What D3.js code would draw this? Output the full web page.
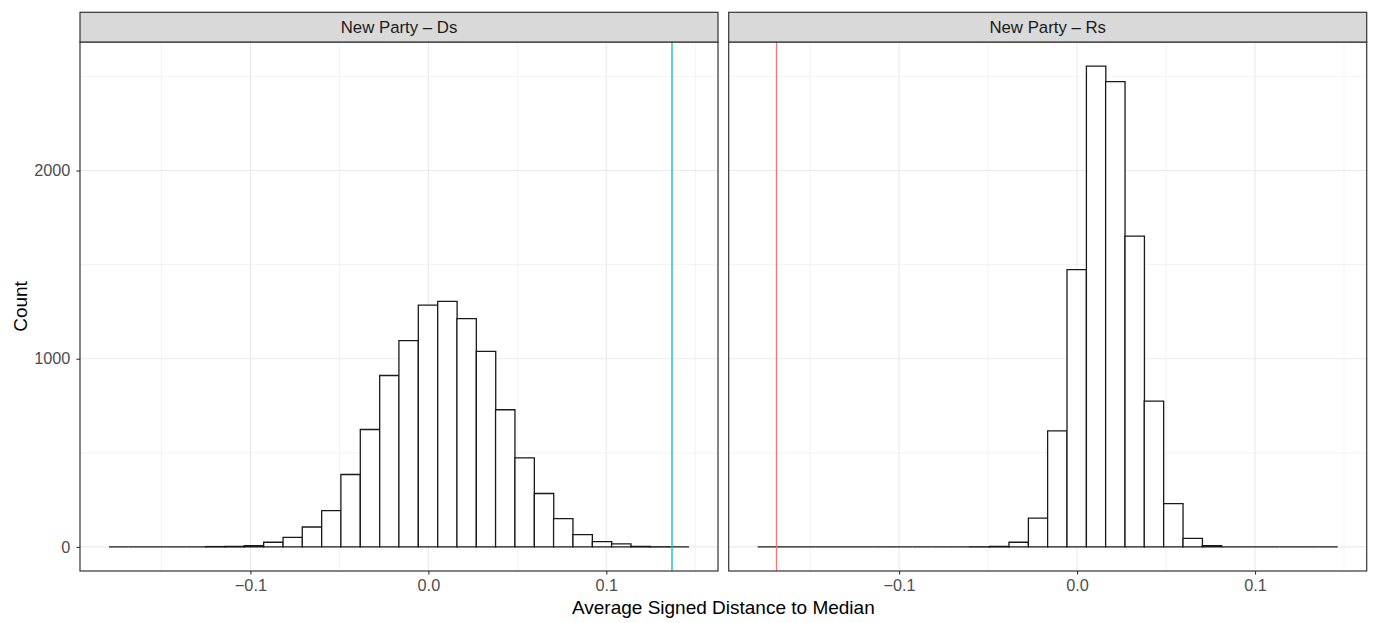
<!DOCTYPE html>
<html>
<head>
<meta charset="utf-8">
<script src="https://cdn.jsdelivr.net/npm/d3@7"></script>
<style>
  html, body { margin: 0; padding: 0; background: #fff; }
  svg { display: block; font-family: "Liberation Sans", Arial, Helvetica, sans-serif; }
</style>
</head>
<body>
<svg id="chart" width="1377" height="623"></svg>
<script>
// Histogram bin centres (shared by both facets)
const binCenters = [
  -0.1740, -0.1631, -0.1523, -0.1414, -0.1305, -0.1197, -0.1088, -0.0980, -0.0871, -0.0762,
  -0.0654, -0.0545, -0.0437, -0.0328, -0.0219, -0.0111, -0.0002, 0.0107, 0.0215, 0.0324,
  0.0432, 0.0541, 0.0650, 0.0758, 0.0867, 0.0976, 0.1084, 0.1193, 0.1301, 0.1410
];

// Counts per bin, one array per facet
const countsDs = [
  0, 0, 0, 0, 0, 2, 3, 7, 25, 51,
  106, 193, 385, 624, 911, 1096, 1285, 1305, 1213, 1039,
  729, 473, 284, 151, 66, 28, 16, 3, 1, 0
];
const countsRs = [
  0, 0, 0, 0, 0, 0, 0, 0, 0, 0,
  0, 1, 3, 25, 153, 617, 1473, 2555, 2472, 1651,
  775, 230, 46, 7, 0, 0, 0, 0, 0, 0
];

const facetLabels = ["New Party \u2013 Ds", "New Party \u2013 Rs"];
const refLines = [0.1369, -0.1689];
const refColors = ["#00BFC4", "#F8766D"];

const xTicks = [-0.1, 0.0, 0.1];
const xMinor = [-0.15, -0.05, 0.05, 0.15];
const yTicks = [0, 1000, 2000];
const yMinor = [500, 1500, 2500];

const xTitle = "Average Signed Distance to Median";
const yTitle = "Count";

// ---- layout ----
const svg = d3.select("#chart");
const panelW = 638;
const panelLefts = [80, 728.7];
const stripTop = 12.3, stripH = 29.7;
const plotTop = stripTop + stripH, plotBottom = 571;
const tickFont = 16.3, stripFont = 16.8, titleFont = 19;

const binWidth = binCenters[1] - binCenters[0];
const dataMin = Math.min(binCenters[0] - binWidth / 2, d3.min(refLines));
const dataMax = Math.max(binCenters[binCenters.length - 1] + binWidth / 2, d3.max(refLines));
const xPad = (dataMax - dataMin) * 0.05;

const yMax = d3.max([...countsDs, ...countsRs]);
const y = d3.scaleLinear()
  .domain([-0.05 * yMax, 1.05 * yMax])
  .range([plotBottom, plotTop]);

const facets = [countsDs, countsRs];

const fmtX = d => {
  const s = d3.format(".1f")(Math.abs(d));
  return d < 0 ? "\u2212" + s : s;
};

facets.forEach((counts, i) => {
  const left = panelLefts[i];
  const x = d3.scaleLinear()
    .domain([dataMin - xPad, dataMax + xPad])
    .range([left, left + panelW]);

  const g = svg.append("g");

  // panel background
  g.append("rect")
    .attr("x", left).attr("y", plotTop)
    .attr("width", panelW).attr("height", plotBottom - plotTop)
    .attr("fill", "#fff");

  // minor grid
  g.selectAll(".gxm").data(xMinor).join("line")
    .attr("x1", d => x(d)).attr("x2", d => x(d))
    .attr("y1", plotTop).attr("y2", plotBottom)
    .attr("stroke", "#EBEBEB").attr("stroke-width", 0.6);
  g.selectAll(".gym").data(yMinor).join("line")
    .attr("x1", left).attr("x2", left + panelW)
    .attr("y1", d => y(d)).attr("y2", d => y(d))
    .attr("stroke", "#EBEBEB").attr("stroke-width", 0.6);
  // major grid
  g.selectAll(".gx").data(xTicks).join("line")
    .attr("x1", d => x(d)).attr("x2", d => x(d))
    .attr("y1", plotTop).attr("y2", plotBottom)
    .attr("stroke", "#EBEBEB").attr("stroke-width", 1.2);
  g.selectAll(".gy").data(yTicks).join("line")
    .attr("x1", left).attr("x2", left + panelW)
    .attr("y1", d => y(d)).attr("y2", d => y(d))
    .attr("stroke", "#EBEBEB").attr("stroke-width", 1.2);

  // histogram bars as closed paths so empty bins still show their outline
  g.selectAll(".bar").data(binCenters.map((c, k) => ({ c, n: counts[k] }))).join("path")
    .attr("d", d => {
      const x0 = x(d.c - binWidth / 2), x1 = x(d.c + binWidth / 2);
      const y0 = y(0), y1 = y(d.n);
      return `M${x0},${y0}L${x0},${y1}L${x1},${y1}L${x1},${y0}Z`;
    })
    .attr("fill", "#fff")
    .attr("stroke", "#1a1a1a")
    .attr("stroke-width", 1.3);

  // reference line
  g.append("line")
    .attr("x1", x(refLines[i])).attr("x2", x(refLines[i]))
    .attr("y1", plotTop).attr("y2", plotBottom)
    .attr("stroke", refColors[i]).attr("stroke-width", 1.3);

  // panel border
  g.append("rect")
    .attr("x", left).attr("y", plotTop)
    .attr("width", panelW).attr("height", plotBottom - plotTop)
    .attr("fill", "none").attr("stroke", "#333333").attr("stroke-width", 1.2);

  // strip
  g.append("rect")
    .attr("x", left).attr("y", stripTop)
    .attr("width", panelW).attr("height", stripH)
    .attr("fill", "#D9D9D9").attr("stroke", "#333333").attr("stroke-width", 1.2);
  g.append("text")
    .attr("x", left + panelW / 2).attr("y", stripTop + stripH / 2)
    .attr("dy", "0.35em")
    .attr("text-anchor", "middle")
    .attr("font-size", stripFont).attr("fill", "#1A1A1A")
    .text(facetLabels[i]);

  // x axis
  const xAxis = d3.axisBottom(x).tickValues(xTicks).tickFormat(fmtX)
    .tickSize(3.6).tickPadding(5);
  const ax = svg.append("g").attr("transform", `translate(0,${plotBottom})`).call(xAxis);
  ax.select(".domain").remove();
  ax.selectAll(".tick line").attr("stroke", "#333333").attr("stroke-width", 1.1);
  ax.selectAll(".tick text").attr("fill", "#4D4D4D").attr("font-size", tickFont)
    .attr("font-family", "Liberation Sans, Arial, sans-serif");

  // y axis on first panel only
  if (i === 0) {
    const yAxis = d3.axisLeft(y).tickValues(yTicks).tickFormat(d3.format("d"))
      .tickSize(3.6).tickPadding(6);
    const ay = svg.append("g").attr("transform", `translate(${left},0)`).call(yAxis);
    ay.select(".domain").remove();
    ay.selectAll(".tick line").attr("stroke", "#333333").attr("stroke-width", 1.1);
    ay.selectAll(".tick text").attr("fill", "#4D4D4D").attr("font-size", tickFont)
      .attr("font-family", "Liberation Sans, Arial, sans-serif");
  }
});

// axis titles
svg.append("text")
  .attr("x", (panelLefts[0] + panelLefts[1] + panelW) / 2)
  .attr("y", 614)
  .attr("text-anchor", "middle")
  .attr("font-size", titleFont).attr("fill", "#000")
  .text(xTitle);

svg.append("text")
  .attr("transform", `translate(27,${(plotTop + plotBottom) / 2}) rotate(-90)`)
  .attr("text-anchor", "middle")
  .attr("font-size", titleFont).attr("fill", "#000")
  .text(yTitle);
</script>
</body>
</html>
